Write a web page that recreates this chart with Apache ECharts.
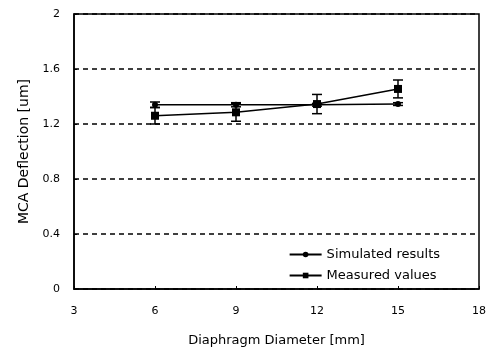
<!DOCTYPE html>
<html><head><meta charset="utf-8">
<script src="https://cdn.jsdelivr.net/npm/echarts@6/dist/echarts.min.js"></script>
<style>html,body{margin:0;padding:0;background:#fff}#c{width:489px;height:352px}</style>
</head><body><div id="c"></div>
<script>
const diameters = [6, 9, 12, 15];
const simulated = [1.34, 1.34, 1.34, 1.345];
const simulatedErr = [0.02, 0.015, 0.01, 0.01];
const measured = [1.26, 1.285, 1.345, 1.455];
const measuredErr = [0.06, 0.065, 0.07, 0.065];
const xTicks = [3, 6, 9, 12, 15, 18];
const yTicks = [0, 0.4, 0.8, 1.2, 1.6, 2];

const font = 'DejaVu Sans, Liberation Sans, sans-serif';
function errData(vals, errs) {
  return diameters.map((d, i) => [d, vals[i] - errs[i], vals[i] + errs[i]]);
}
function errRender(params, api) {
  const x = api.value(0);
  const lo = api.coord([x, api.value(1)]);
  const hi = api.coord([x, api.value(2)]);
  const w = 5;
  const st = {stroke: '#000', lineWidth: 1.5};
  return {type: 'group', children: [
    {type: 'line', shape: {x1: lo[0], y1: lo[1], x2: hi[0], y2: hi[1]}, style: st},
    {type: 'line', shape: {x1: lo[0]-w, y1: lo[1], x2: lo[0]+w, y2: lo[1]}, style: st},
    {type: 'line', shape: {x1: hi[0]-w, y1: hi[1], x2: hi[0]+w, y2: hi[1]}, style: st}
  ]};
}
const chart = echarts.init(document.getElementById('c'), null, {renderer: 'canvas'});
chart.setOption({
  animation: false,
  backgroundColor: '#fff',
  grid: {left: 74, top: 14, width: 405, height: 276, show: true, borderColor: '#000', borderWidth: 1.5},
  xAxis: {
    type: 'value', min: 3, max: 18, interval: 3,
    name: 'Diaphragm Diameter [mm]', nameLocation: 'middle', nameGap: 45,
    nameTextStyle: {color: '#000', fontFamily: font, fontSize: 13},
    axisLine: {lineStyle: {color: '#000', width: 1.5}},
    axisTick: {inside: true, length: 3, lineStyle: {color: '#000'}},
    axisLabel: {color: '#000', fontFamily: font, fontSize: 11, margin: 17,
      formatter: v => xTicks.includes(v) ? String(v) : ''},
    splitLine: {show: false}
  },
  yAxis: {
    type: 'value', min: 0, max: 2, interval: 0.4,
    name: 'MCA Deflection [um]', nameLocation: 'middle', nameGap: 43,
    nameTextStyle: {color: '#000', fontFamily: font, fontSize: 14},
    axisLine: {lineStyle: {color: '#000', width: 1.5}},
    axisTick: {inside: true, length: 3, lineStyle: {color: '#000'}},
    axisLabel: {color: '#000', fontFamily: font, fontSize: 11, margin: 14,
      formatter: v => { const t = yTicks.find(k => Math.abs(k - v) < 1e-6); return t === undefined ? '' : String(t); }},
    splitLine: {show: true, lineStyle: {color: '#000', type: [5, 4], width: 1.5}}
  },
  legend: {
    right: 44, bottom: 65, orient: 'vertical', itemGap: 8, itemWidth: 32, itemHeight: 7,
    textStyle: {color: '#000', fontFamily: font, fontSize: 13},
    data: ['Simulated results', 'Measured values']
  },
  series: [
    {name: 'Simulated results', type: 'line', data: diameters.map((d, i) => [d, simulated[i]]),
      symbol: 'circle', symbolSize: 6, lineStyle: {color: '#000', width: 1.5}, itemStyle: {color: '#000'}, z: 3},
    {name: 'Measured values', type: 'line', data: diameters.map((d, i) => [d, measured[i]]),
      symbol: 'rect', symbolSize: 8, lineStyle: {color: '#000', width: 1.5}, itemStyle: {color: '#000'}, z: 3},
    {type: 'custom', renderItem: errRender, data: errData(simulated, simulatedErr), z: 2, silent: true},
    {type: 'custom', renderItem: errRender, data: errData(measured, measuredErr), z: 2, silent: true}
  ]
});
</script></body></html>
